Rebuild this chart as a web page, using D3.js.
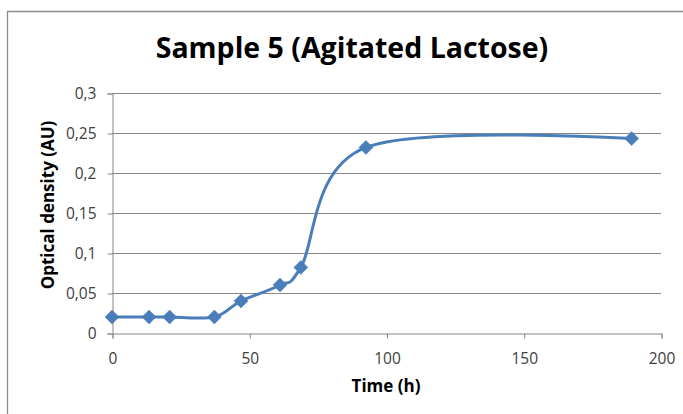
<!DOCTYPE html>
<html>
<head>
<meta charset="utf-8">
<script src="https://cdn.jsdelivr.net/npm/d3@7"></script>
<style>
  html, body { margin: 0; padding: 0; background: #fff; }
  svg { display: block; }
  text { font-family: "Open Sans", Lato, "Liberation Sans", sans-serif; }
</style>
</head>
<body>
<svg id="chart" width="683" height="414"></svg>
<script>
// Growth measurements
const timeHours = [0, 13.5, 21, 37.3, 47, 61.2, 68.8, 92.5, 189.3];
const opticalDensity = [0.02, 0.02, 0.02, 0.02, 0.04, 0.06, 0.082, 0.232, 0.243];
const xTicks = [0, 50, 100, 150, 200];
const yTicks = [0, 0.05, 0.1, 0.15, 0.2, 0.25, 0.3];
const yTickLabels = ["0", "0,05", "0,1", "0,15", "0,2", "0,25", "0,3"];

const svg = d3.select("#chart");
const margin = { left: 112, right: 22, top: 93, bottom: 81 };
const W = 683, H = 414;
const FONT = "'Open Sans', Lato, sans-serif";

// chart frame
svg.append("path")
  .attr("d", `M7.5,${H + 2} L7.5,11.5 L${W + 2},11.5`)
  .attr("fill", "none").attr("stroke", "#8a8a8a").attr("stroke-width", 1.3);

const x = d3.scaleLinear().domain([0, 200]).range([margin.left, W - margin.right]);
const y = d3.scaleLinear().domain([0, 0.3]).range([H - margin.bottom, margin.top]);

// horizontal gridlines
svg.append("g").selectAll("line").data(yTicks.slice(1)).join("line")
  .attr("x1", x(0)).attr("x2", x(200))
  .attr("y1", d => Math.round(y(d)) + 0.5).attr("y2", d => Math.round(y(d)) + 0.5)
  .attr("stroke", "#878787").attr("stroke-width", 1);

// y axis
const yAxis = d3.axisLeft(y).tickValues(yTicks)
  .tickFormat((d, i) => yTickLabels[i]).tickSize(5).tickPadding(11);
const gy = svg.append("g").attr("transform", `translate(${Math.round(x(0)) + 0.5},0.5)`).call(yAxis);
gy.select(".domain").attr("stroke", "#878787");
gy.selectAll(".tick line").attr("stroke", "#878787");
gy.selectAll(".tick text").attr("font-size", 15.5).attr("fill", "#404040")
  .style("font-family", FONT);

// x axis
const xAxis = d3.axisBottom(x).tickValues(xTicks).tickSize(5).tickPadding(14);
const gx = svg.append("g").attr("transform", `translate(0.5,${Math.round(y(0)) + 0.5})`).call(xAxis);
gx.select(".domain").attr("stroke", "#878787");
gx.selectAll(".tick line").attr("stroke", "#878787");
gx.selectAll(".tick text").attr("font-size", 15.5).attr("fill", "#404040")
  .style("font-family", FONT);

// title
svg.append("text").attr("x", 352).attr("y", 58).attr("text-anchor", "middle")
  .attr("font-size", 28.5).attr("font-weight", "bold").attr("fill", "#000")
  .text("Sample 5 (Agitated Lactose)");

// axis titles
svg.append("text").attr("x", 386).attr("y", 392).attr("text-anchor", "middle")
  .attr("font-size", 17).attr("font-weight", "bold").attr("fill", "#000")
  .text("Time (h)");
svg.append("text").attr("transform", "translate(53.5,205) rotate(-90)")
  .attr("text-anchor", "middle")
  .attr("font-size", 17).attr("font-weight", "bold").attr("fill", "#000")
  .text("Optical density (AU)");

// smoothed series line (uniform Catmull-Rom spline)
const pts = timeHours.map((t, i) => [t, opticalDensity[i]]);
const line = d3.line().x(d => x(d[0])).y(d => y(d[1])).curve(d3.curveCardinal.tension(0));
svg.append("path").datum(pts).attr("d", line)
  .attr("fill", "none").attr("stroke", "#4a7ebb").attr("stroke-width", 3)
  .attr("stroke-linejoin", "round");

// diamond markers
svg.append("g").selectAll("path").data(pts).join("path")
  .attr("transform", d => `translate(${x(d[0])},${y(d[1])})`)
  .attr("d", "M0,-7 L7,0 L0,7 L-7,0 Z")
  .attr("fill", "#4a7ebb").attr("stroke", "#4a7ebb").attr("stroke-width", 0.5);
</script>
</body>
</html>
